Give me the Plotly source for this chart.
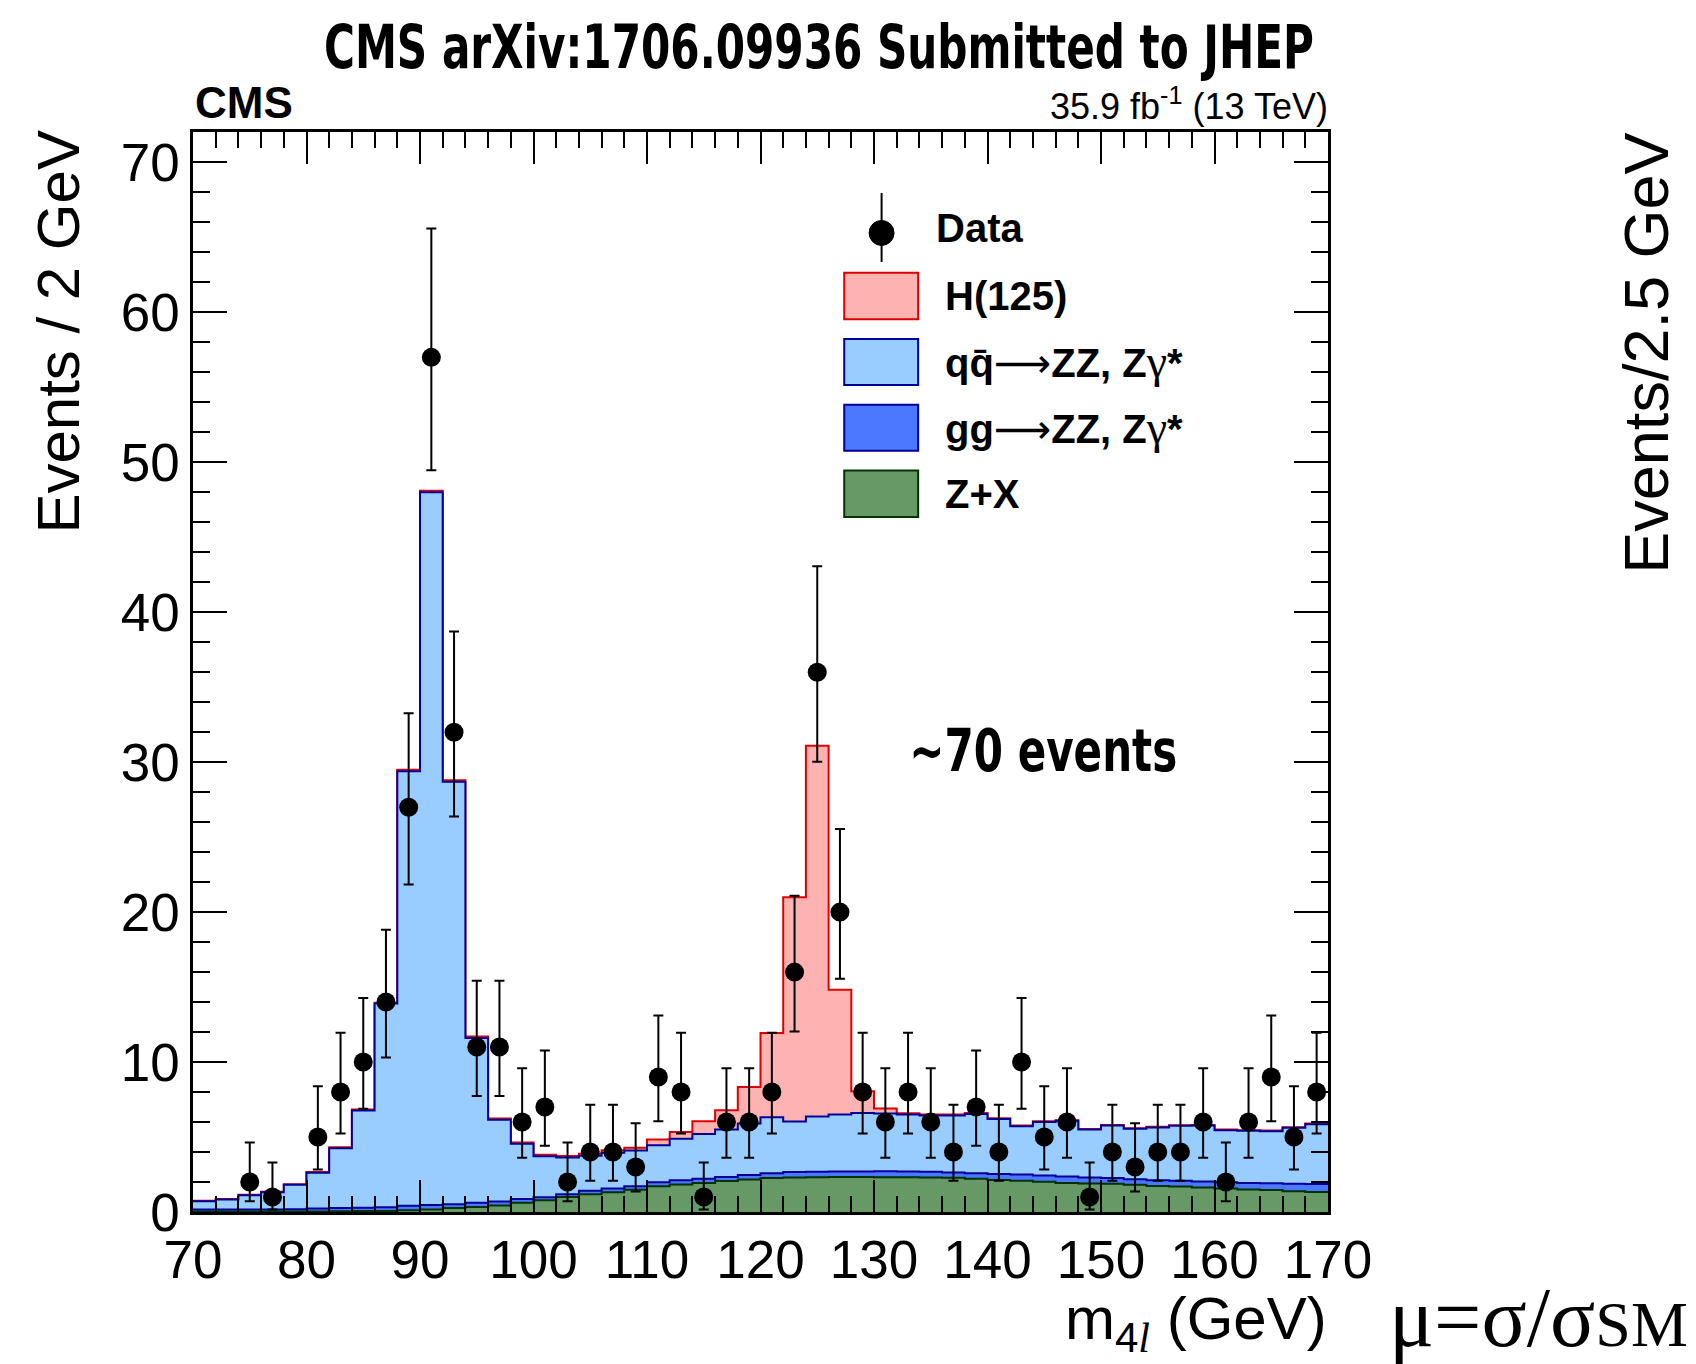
import plotly.graph_objects as go
import numpy as np

# ---------------- data ----------------
bin_edges = list(range(70, 172, 2))          # 50 bins of 2 GeV, 70..170
bin_centers = [e + 1 for e in bin_edges[:-1]]

data_counts = [0, 0, 2, 1, 0, 5, 8, 10, 14, 27,
               57, 32, 11, 11, 6, 7, 2, 4, 4, 3,
               9, 8, 1, 6, 6, 8, 16, 36, 20, 8,
               6, 8, 6, 4, 7, 4, 10, 5, 6, 1,
               4, 3, 4, 4, 6, 2, 6, 9, 5, 8]

# 68% Poisson (Garwood) intervals read for the observed counts: n -> (down, up)
poisson_68 = {1: (0.83, 2.30), 2: (1.29, 2.64), 3: (1.63, 2.92), 4: (1.91, 3.16),
              5: (2.16, 3.38), 6: (2.38, 3.58), 7: (2.58, 3.77), 8: (2.77, 3.95),
              9: (2.94, 4.11), 10: (3.11, 4.27), 11: (3.27, 4.42), 14: (3.70, 4.83),
              16: (3.96, 5.10), 20: (4.44, 5.55), 27: (5.15, 6.26), 32: (5.62, 6.72),
              36: (5.97, 7.07), 57: (7.53, 8.59)}

zx = [0.03, 0.03, 0.03, 0.03, 0.04, 0.04, 0.05, 0.06, 0.07, 0.12,
      0.17, 0.26, 0.34, 0.43, 0.61, 0.79, 1.00, 1.19, 1.32, 1.48,
      1.72, 1.83, 1.94, 2.06, 2.17, 2.26, 2.30, 2.32, 2.34, 2.34,
      2.32, 2.32, 2.30, 2.28, 2.21, 2.14, 2.08, 2.01, 1.94, 1.90,
      1.88, 1.81, 1.74, 1.70, 1.63, 1.57, 1.50, 1.46, 1.39, 1.34]

ggzz = [0.14, 0.14, 0.14, 0.14, 0.15, 0.19, 0.21, 0.22, 0.25, 0.29,
        0.29, 0.26, 0.27, 0.27, 0.25, 0.20, 0.19, 0.22, 0.25, 0.24,
        0.27, 0.29, 0.27, 0.28, 0.29, 0.33, 0.36, 0.36, 0.36, 0.36,
        0.40, 0.38, 0.38, 0.35, 0.38, 0.40, 0.42, 0.42, 0.43, 0.40,
        0.38, 0.38, 0.38, 0.38, 0.40, 0.42, 0.44, 0.46, 0.49, 0.52]

qqzz = [0.55, 0.66, 0.95, 1.15, 1.62, 2.38, 4.00, 6.49, 13.58, 28.99,
        47.54, 28.18, 10.99, 5.45, 3.69, 2.73, 2.44, 2.34, 2.38, 2.38,
        2.47, 2.76, 3.00, 3.16, 3.44, 3.73, 3.37, 3.69, 3.80, 3.91,
        3.85, 3.80, 3.75, 3.80, 3.95, 3.67, 3.22, 3.58, 3.71, 3.20,
        3.51, 3.36, 3.52, 3.67, 3.74, 3.47, 3.48, 3.47, 3.74, 4.00]

higgs = [0.03, 0.03, 0.03, 0.03, 0.04, 0.05, 0.06, 0.06, 0.05, 0.10,
         0.10, 0.10, 0.10, 0.08, 0.08, 0.09, 0.10, 0.13, 0.17, 0.18,
         0.37, 0.46, 0.85, 1.29, 2.44, 5.62, 14.97, 24.73, 8.33, 1.45,
         0.33, 0.08, 0.08, 0.07, 0.06, 0.05, 0.05, 0.05, 0.04, 0.04,
         0.04, 0.04, 0.04, 0.04, 0.04, 0.04, 0.04, 0.04, 0.04, 0.04]

x_ticks = list(range(70, 171, 10))
y_ticks = list(range(0, 71, 10))

# ---------------- geometry helpers (pixel -> paper) ----------------
W, H = 1696, 1364
PL, PR, PT, PB = 192.5, 1328.5, 132.0, 1212.5


def px(x):
    return (x - PL) / (PR - PL)


def py(y):
    return (PB - y) / (PB - PT)


# ---------------- stacked histograms ----------------
c_zx = np.array(zx)
c_gg = c_zx + np.array(ggzz)
c_qq = c_gg + np.array(qqzz)
c_tot = c_qq + np.array(higgs)


def step(vals):
    v = list(vals)
    return v + [v[-1]]


fig = go.Figure()
layers = [
    (c_tot, '#ffb2b2', '#e00000'),
    (c_qq, '#99ccff', '#000099'),
    (c_gg, '#4b78ff', '#000099'),
    (c_zx, '#669966', '#003300'),
]
for vals, fc, lc in layers:
    fig.add_trace(go.Scatter(
        x=bin_edges, y=step(vals), mode='lines',
        line=dict(shape='hv', color=lc, width=2),
        fill='tozeroy', fillcolor=fc, showlegend=False, hoverinfo='skip'))

# ---------------- data points ----------------
dx, dy, eu, ed = [], [], [], []
for c, n in zip(bin_centers, data_counts):
    if n > 0:
        dx.append(c)
        dy.append(n)
        ed.append(poisson_68[n][0])
        eu.append(poisson_68[n][1])

fig.add_trace(go.Scatter(
    x=dx, y=dy, mode='markers',
    marker=dict(color='black', size=19, symbol='circle'),
    error_y=dict(type='data', symmetric=False, array=eu, arrayminus=ed,
                 color='black', thickness=2, width=5),
    showlegend=False, hoverinfo='skip'))

# ---------------- axes ----------------
tickfont = dict(family='Liberation Sans, Arial, sans-serif', size=53, color='black')
fig.update_xaxes(range=[70, 170], tickvals=x_ticks, ticktext=[str(t) for t in x_ticks],
                 ticks='inside', ticklen=32, tickwidth=2, tickcolor='black',
                 minor=dict(dtick=2, tick0=70, ticks='inside', ticklen=16, tickwidth=2, tickcolor='black'),
                 showline=True, linewidth=2.5, linecolor='black', mirror='ticks',
                 showgrid=False, zeroline=False, tickfont=tickfont)
fig.update_yaxes(range=[0, 72.03], tickvals=y_ticks, ticktext=[str(t) for t in y_ticks],
                 ticks='inside', ticklen=34, tickwidth=2, tickcolor='black',
                 minor=dict(dtick=2, tick0=0, ticks='inside', ticklen=17, tickwidth=2, tickcolor='black'),
                 showline=True, linewidth=2.5, linecolor='black', mirror='ticks',
                 showgrid=False, zeroline=False, tickfont=tickfont)

# ---------------- texts ----------------
SANS = 'Liberation Sans, Arial, Helvetica, sans-serif'
NARROW = 'Liberation Sans Narrow, DejaVu Sans Condensed, Arial Narrow, sans-serif'
SERIF = 'Liberation Serif, Times New Roman, serif'

ann = []


def add_text(text, x, y, size, family=SANS, xanchor='center', yanchor='middle', angle=0, color='black'):
    ann.append(dict(text=text, x=px(x), y=py(y), xref='paper', yref='paper',
                    xanchor=xanchor, yanchor=yanchor, showarrow=False, textangle=angle,
                    font=dict(family=family, size=size, color=color)))


ARROW = '<span style="font-family:DejaVu Sans;font-weight:normal">⟶</span>'
GAMMA = '<span style="font-family:Liberation Serif;font-weight:normal;font-size:46px">γ</span>'

add_text('<b>CMS arXiv:1706.09936 Submitted to JHEP</b>', 819, 47, 60, family=NARROW)
add_text('<b>CMS</b>', 193, 102, 44, xanchor='left')
add_text('35.9 fb<sup>-1</sup> (13 TeV)', 1331, 104, 36, xanchor='right')
add_text('<b>~70 events</b>', 1043, 751, 58, family=NARROW)
add_text('Events / 2 GeV', 57, 128, 60, xanchor='center', yanchor='top', angle=-90)
add_text('m<sub>4<i><span style="font-family:Liberation Serif">l</span></i></sub> (GeV)',
         1330, 1324, 60, xanchor='right')
add_text('Events/2.5 GeV', 1646, 131, 63, xanchor='center', yanchor='top', angle=-90)
add_text('μ=σ/σ<span style="font-size:64px">SM</span>', 1388, 1318, 84, family=SERIF, xanchor='left')

# ---------------- manual legend ----------------
shapes = []
shapes.append(dict(type='line', xref='paper', yref='paper', x0=px(881.7), x1=px(881.7),
                   y0=py(262), y1=py(193), line=dict(color='black', width=2)))
shapes.append(dict(type='circle', xref='paper', yref='paper', x0=px(869.2), x1=px(894.2),
                   y0=py(245.5), y1=py(220.5), fillcolor='black', line=dict(color='black', width=1)))
add_text('<b>Data</b>', 934, 228, 40, xanchor='left')

leg = [
    ('<b>H(125)</b>', '#ffb2b2', '#e00000', 272.7, 319.3),
    ('<b>qq\u0304' + ARROW + 'ZZ, Z' + GAMMA + '*</b>', '#99ccff', '#000099', 339.0, 385.0),
    ('<b>gg' + ARROW + 'ZZ, Z' + GAMMA + '*</b>', '#4b78ff', '#000099', 405.0, 451.0),
    ('<b>Z+X</b>', '#669966', '#003300', 470.7, 517.3),
]
for text, fc, lc, y0, y1 in leg:
    shapes.append(dict(type='rect', xref='paper', yref='paper', x0=px(844.3), x1=px(918.3),
                       y0=py(y1), y1=py(y0), fillcolor=fc, line=dict(color=lc, width=2)))
    add_text(text, 943, (y0 + y1) / 2, 40, xanchor='left')

fig.update_layout(
    width=W, height=H,
    margin=dict(l=PL, r=W - PR, t=PT, b=H - PB, pad=0),
    paper_bgcolor='white', plot_bgcolor='white',
    showlegend=False,
    annotations=ann, shapes=shapes,
)

# condensed-font look for the two heavy labels: fit them to the widths seen in the reference
post = """
document.body.style.margin='0';
document.body.style.overflow='hidden';
var fits = [['CMS arXiv', 990], ['~70 events', 268]];
document.querySelectorAll('text.annotation-text').forEach(function(t){
  fits.forEach(function(f){
    if (t.textContent.indexOf(f[0]) === 0) {
      t.setAttribute('textLength', f[1]);
      t.setAttribute('lengthAdjust', 'spacingAndGlyphs');
    }
  });
});
"""

fig.write_html('out.html', config={'displayModeBar': False}, post_script=post)
